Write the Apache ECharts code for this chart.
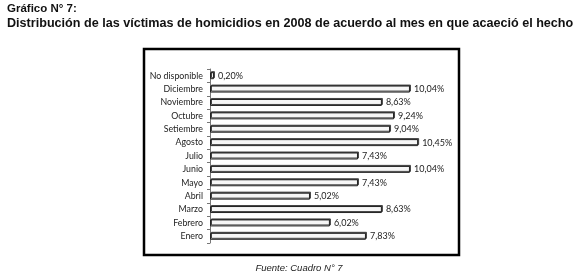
<!DOCTYPE html>
<html>
<head>
<meta charset="utf-8">
<script src="https://cdn.jsdelivr.net/npm/echarts@6/dist/echarts.min.js"></script>
<style>
html,body{margin:0;padding:0;background:#fff;}
#chart{width:580px;height:277px;}
</style>
</head>
<body>
<div id="chart"></div>
<script>
var titleLine1 = 'Gráfico N° 7:';
var titleLine2 = 'Distribución de las víctimas de homicidios en 2008 de acuerdo al mes en que acaeció el hecho';
var sourceText = 'Fuente: Cuadro N° 7';
// bottom to top
var categories = ['Enero','Febrero','Marzo','Abril','Mayo','Junio','Julio','Agosto','Setiembre','Octubre','Noviembre','Diciembre','No disponible'];
var values = [7.83, 6.02, 8.63, 5.02, 7.43, 10.04, 7.43, 10.45, 9.04, 9.24, 8.63, 10.04, 0.20];

var chart = echarts.init(document.getElementById('chart'), null, {renderer:'canvas'});
chart.setOption({
  animation: false,
  backgroundColor: '#ffffff',
  title: [
    {text: titleLine1, left: 7, top: 3, padding: 0, textStyle:{fontFamily:'Liberation Sans', fontWeight:'bold', fontSize:11.5, color:'#111'}},
    {text: titleLine2, left: 7, top: 17, padding: 0, textStyle:{fontFamily:'Liberation Sans', fontWeight:'bold', fontSize:12.6, color:'#111'}},
    {text: sourceText, left: 299, textAlign:'center', top: 263, padding: 0, textStyle:{fontFamily:'Liberation Sans', fontStyle:'italic', fontWeight:'normal', fontSize:9.5, color:'#222'}}
  ],
  graphic: [
    {type:'rect', shape:{x:144, y:49, width:315, height:206}, style:{fill:'none', stroke:'#000', lineWidth:2.5}, z:10}
  ],
  grid: {left: 210, top: 69, width: 239, height: 174, containLabel: false},
  xAxis: {
    type: 'value', min: 0, max: 12, show: false
  },
  yAxis: {
    type: 'category', data: categories,
    axisLine: {show:true, lineStyle:{color:'#777', width:1}},
    axisTick: {show:true, length:3, lineStyle:{color:'#777'}},
    axisLabel: {fontFamily:'Lato', fontSize:8.8, color:'#222', margin:7}
  },
  series: [{
    type: 'bar',
    data: values,
    barWidth: 7,
    itemStyle: {color:'#f6f6f6', borderColor:'#222', borderWidth:1, shadowColor:'#444', shadowOffsetX:1, shadowOffsetY:-1, shadowBlur:0},
    label: {
      show: true, position: 'right', distance: 4,
      fontFamily:'Lato', fontSize:9, color:'#222',
      formatter: function(p){ return p.value.toFixed(2).replace('.', ',') + '%'; }
    }
  }]
});
</script>
</body>
</html>
